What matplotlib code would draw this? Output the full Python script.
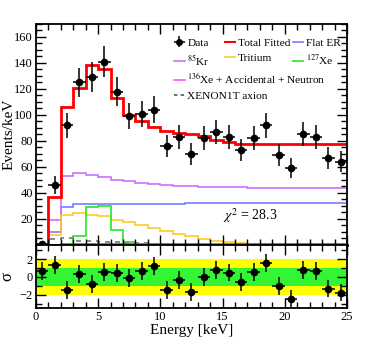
import numpy as np
import matplotlib
matplotlib.use('Agg')
import matplotlib.pyplot as plt
from matplotlib.ticker import MultipleLocator
from matplotlib.lines import Line2D

plt.rcParams['font.family'] = ['Liberation Serif', 'DejaVu Serif']
plt.rcParams['mathtext.fontset'] = 'stix'

# bin edges (keV) and data
edges = np.arange(0, 26, 1)
centers = edges[:-1] + 0.5
data = [1, 46, 92, 125, 129, 141, 118, 99, 101, 104, 76, 83, 70, 82, 87, 83, 73,
        82, 92, 69, 59, 85, 83, 67, 64]
data_err = [1, 6.8, 9.6, 11.2, 11.4, 11.9, 10.9, 9.9, 10.0, 10.2, 8.7, 9.1, 8.4,
            9.1, 9.3, 9.1, 8.5, 9.1, 9.6, 8.3, 7.7, 9.2, 9.1, 8.2, 8.0]

# fitted components (events/keV per 1 keV bin)
total_fit = [0, 37, 106, 121, 138, 135, 113, 100, 95, 91, 88, 86, 85, 84, 81, 79,
             78, 78, 78, 78, 78, 78, 78, 78, 78]
flat_er = [0, 10, 29, 31.5, 31.6, 31.6, 31.7, 31.7, 31.8, 31.8, 31.9, 31.9, 32.0,
           32.0, 32.1, 32.1, 32.2, 32.2, 32.3, 32.3, 32.3, 32.4, 32.4, 32.5, 32.5]
kr85 = [0, 19.5, 53, 55, 53.6, 52.3, 50.2, 48.9, 47.7, 46.9, 46.1, 45.6, 45.2, 44.9,
        44.7, 44.5, 44.3, 44.2, 44.1, 44.0, 43.9, 43.9, 43.8, 43.8, 43.7]
tritium = [0, 7.4, 22.8, 24.6, 23.3, 22, 19.5, 17.5, 15.6, 13, 10.5, 8.7, 6.6, 4.8,
           3.3, 2.3, 1.5, 1.0, 0.7, 0.6, 0.5, 0.5, 0.5, 0.5, 0.5]
xe127 = [0, 0, 0, 7.2, 29, 29.6, 11.8, 2.5, 0, 0, 0, 0, 0, 0, 0, 0, 0, 0, 0, 0, 0, 0,
         0, 0, 0]
xe136 = [0, 0.3, 0.4, 0.4, 0.4, 0.4, 0.4, 0.4, 0.4, 0.4, 0.4, 0.4, 0.4, 0.4, 0.4, 0.4,
         0.4, 0.4, 0.4, 0.4, 0.4, 0.4, 0.4, 0.4, 0.4]
axion = [0, 4.5, 5.3, 3.3, 3.0, 2.6, 2.2, 1.8, 1.4, 1.1, 0.8, 0.6, 0.4, 0.3, 0.2, 0.1,
         0.1, 0.1, 0.1, 0.1, 0.1, 0.1, 0.1, 0.1, 0.1]

# residuals in sigma
resid = [0.67, 1.35, -1.46, 0.37, -0.82, 0.53, 0.41, -0.15, 0.67, 1.27, -1.46, -0.34,
         -1.72, 0.0, 0.75, 0.49, -0.6, 0.52, 1.53, -1.01, -2.43, 0.82, 0.67, -1.31, -1.76]

fig = plt.figure(figsize=(3.66, 3.51), dpi=100)
ax = fig.add_axes([0.098, 0.302, 0.85, 0.630])
axr = fig.add_axes([0.098, 0.1225, 0.85, 0.1795], sharex=ax)

c_blue = '#7b7bff'
c_kr = '#cc70ff'
c_tri = '#ffc926'
c_xe127 = '#22e822'
c_xe136 = '#ff55ff'

ax.stairs(flat_er, edges, baseline=None, color=c_blue, lw=1.2)
ax.stairs(kr85, edges, baseline=None, color=c_kr, lw=1.2)
ax.stairs(tritium, edges, baseline=None, color=c_tri, lw=1.2)
ax.stairs(xe127, edges, baseline=None, color=c_xe127, lw=1.2)
ax.stairs(xe136, edges, baseline=None, color='#009999', lw=1.2)
ax.stairs(axion, edges, baseline=None, color='#777777', lw=1.2, ls=(0, (3, 3)))
ax.stairs(total_fit, edges, baseline=None, color='red', lw=2)
ax.errorbar(centers, data, xerr=0.5, yerr=data_err, fmt='o', color='black',
            ms=4.5, elinewidth=1.1, capsize=0, zorder=5)

ax.text(0.6, 0.115, r'$\chi^2$ = 28.3', transform=ax.transAxes, fontsize=10)

ax.set_xlim(0, 25)
ax.set_ylim(0, 170)
ax.set_yticks([20, 40, 60, 80, 100, 120, 140, 160])
ax.yaxis.set_minor_locator(MultipleLocator(5))
ax.xaxis.set_major_locator(MultipleLocator(5))
ax.xaxis.set_minor_locator(MultipleLocator(1))
ax.set_ylabel('Events/keV', fontsize=11)
ax.yaxis.set_label_coords(-0.065, 0.5)
ax.tick_params(labelbottom=False)

# legend: one small legend per column, like the ROOT layout
h_data = ax.errorbar([], [], xerr=0.5, yerr=1, fmt='o', color='black', ms=4, elinewidth=1.1)
h_tot = Line2D([], [], color='red', lw=1.5)
h_flat = Line2D([], [], color=c_blue, lw=1.2)
h_kr = Line2D([], [], color=c_kr, lw=1.2)
h_tri = Line2D([], [], color=c_tri, lw=1.2)
h_127 = Line2D([], [], color=c_xe127, lw=1.2)
h_136 = Line2D([], [], color=c_xe136, lw=1.2)
h_ax = Line2D([], [], color='#555555', lw=1.2, ls=(0, (2, 2)))

leg_kw = dict(loc='upper left', frameon=False, fontsize=8.2, handlelength=0.9,
              handletextpad=0.25, labelspacing=0.45, borderaxespad=0, borderpad=0)
columns = [([h_data, h_kr], ['Data', r'$^{85}$Kr'], 0.445),
           ([h_tot, h_tri], ['Total Fitted', 'Tritium'], 0.608),
           ([h_flat, h_127], ['Flat ER', r'$^{127}$Xe'], 0.825)]
for handles, labels, x0 in columns:
    leg = ax.legend(handles, labels, bbox_to_anchor=(x0, 0.937), **leg_kw)
    ax.add_artist(leg)
ax.legend([h_136, h_ax], [r'$^{136}$Xe + Accidental + Neutron', 'XENON1T axion'],
          bbox_to_anchor=(0.445, 0.785), **leg_kw)

axr.axhspan(-2, 2, color='#ffff00', lw=0)
axr.axhspan(-1, 1, color='#33f533', lw=0)
axr.errorbar(centers, resid, xerr=0.5, yerr=1, fmt='o', color='black',
             ms=4.5, elinewidth=1.1, capsize=0, zorder=5)
axr.set_ylim(-3.5, 3.6)
axr.set_yticks([-2, 0, 2])
axr.set_yticklabels(['\u22122', '0', '2'])
axr.yaxis.set_minor_locator(MultipleLocator(1))
axr.set_xlabel('Energy [keV]', fontsize=11, labelpad=1)
axr.set_ylabel('\u03c3', fontsize=12)
axr.yaxis.set_label_coords(-0.065, 0.5)

for a in (ax, axr):
    a.tick_params(which='both', direction='in', top=True, right=True, labelsize=9, pad=2)
    a.tick_params(which='major', length=7, width=1)
    a.tick_params(which='minor', length=4, width=1)
    for s in a.spines.values():
        s.set_linewidth(1.3)
ax.spines['bottom'].set_linewidth(2)

fig.savefig('out.png', dpi=100)
